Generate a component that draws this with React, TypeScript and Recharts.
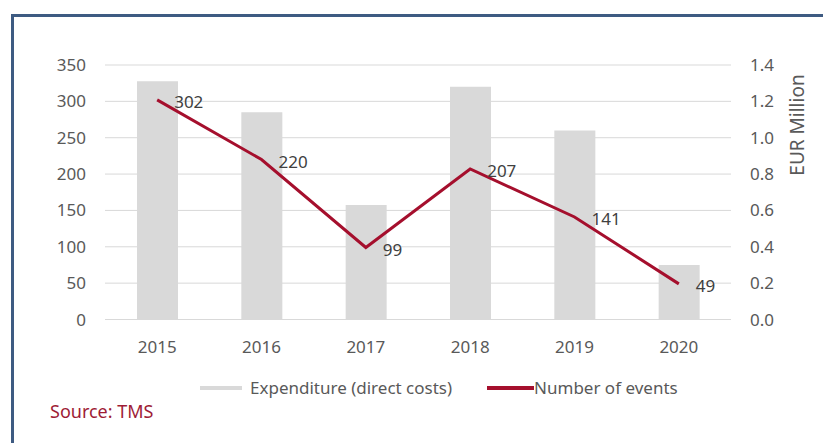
import {
  ComposedChart,
  Bar,
  Line,
  XAxis,
  YAxis,
  CartesianGrid,
  Legend,
  LabelList,
} from "recharts";

const years = ["2015", "2016", "2017", "2018", "2019", "2020"];
const expenditure = [1.31, 1.14, 0.63, 1.28, 1.04, 0.3];
const events = [302, 220, 99, 207, 141, 49];
const leftTicks = [0, 50, 100, 150, 200, 250, 300, 350];
const rightTicks = [0, 0.2, 0.4, 0.6, 0.8, 1.0, 1.2, 1.4];

const data = years.map((year, i) => ({
  year,
  expenditure: expenditure[i],
  events: events[i],
}));

const font = "'Noto Sans', sans-serif";
const tickStyle = { fill: "#595959", fontSize: 17, fontFamily: font };

const renderLegend = () => (
  <div
    style={{
      display: "flex",
      alignItems: "center",
      fontFamily: font,
      fontSize: 17,
      color: "#595959",
    }}
  >
    <span style={{ width: 42, height: 4, background: "#d9d9d9", marginRight: 8 }} />
    <span>Expenditure (direct costs)</span>
    <span style={{ width: 47, height: 4, background: "#a50f2d", marginLeft: 35 }} />
    <span>Number of events</span>
  </div>
);

const renderUnit = (props: any) => {
  const vb = props.viewBox;
  const x = vb.x + 66;
  const y = vb.y + 60;
  return (
    <text
      x={x}
      y={y}
      transform={`rotate(-90 ${x} ${y})`}
      textAnchor="middle"
      dominantBaseline="central"
      fill="#595959"
      fontSize={19}
      fontFamily={font}
    >
      EUR Million
    </text>
  );
};

export default function App() {
  return (
    <div
      style={{
        position: "absolute",
        left: 0,
        top: 0,
        width: 823,
        height: 443,
        overflow: "hidden",
        background: "#fff",
      }}
    >
      <div
        style={{
          position: "absolute",
          left: 11,
          top: 14,
          width: 900,
          height: 500,
          borderLeft: "3px solid #3e5b82",
          borderTop: "3px solid #3e5b82",
        }}
      />
      <ComposedChart
        width={823}
        height={443}
        data={data}
        margin={{ top: 65, right: 0, bottom: 93.5, left: 0 }}
        style={{ position: "absolute", left: 0, top: 0 }}
      >
        <CartesianGrid yAxisId="left" vertical={false} stroke="#d9d9d9" />
        <XAxis
          dataKey="year"
          height={30}
          axisLine={{ stroke: "#d9d9d9" }}
          tickLine={false}
          tickSize={0}
          tickMargin={21}
          tick={tickStyle}
        />
        <YAxis
          yAxisId="left"
          width={105}
          domain={[0, 350]}
          ticks={leftTicks}
          axisLine={false}
          tickLine={false}
          tickSize={0}
          tickMargin={19}
          tick={tickStyle}
        />
        <YAxis
          yAxisId="right"
          orientation="right"
          width={92}
          domain={[0, 1.4]}
          ticks={rightTicks}
          tickFormatter={(v: number) => v.toFixed(1)}
          axisLine={false}
          tickLine={false}
          tickSize={0}
          tickMargin={19}
          tick={{ ...tickStyle, textAnchor: "start" }}
          label={renderUnit}
        />
        <Bar
          yAxisId="right"
          dataKey="expenditure"
          name="Expenditure (direct costs)"
          fill="#d9d9d9"
          barSize={41}
          isAnimationActive={false}
        />
        <Line
          yAxisId="left"
          dataKey="events"
          name="Number of events"
          stroke="#a50f2d"
          strokeWidth={3}
          dot={false}
          activeDot={false}
          isAnimationActive={false}
        >
          <LabelList
            dataKey="events"
            position="right"
            offset={17}
            dy={2}
            fill="#404040"
            fontSize={17}
            fontFamily={font}
          />
        </Line>
        <Legend
          layout="horizontal"
          verticalAlign="middle"
          align="center"
          content={renderLegend}
          wrapperStyle={{ top: 376, left: 200, width: 580 }}
        />
      </ComposedChart>
      <div
        style={{
          position: "absolute",
          left: 50,
          top: 399,
          fontFamily: font,
          fontSize: 18,
          color: "#9e1c35",
        }}
      >
        Source: TMS
      </div>
    </div>
  );
}
